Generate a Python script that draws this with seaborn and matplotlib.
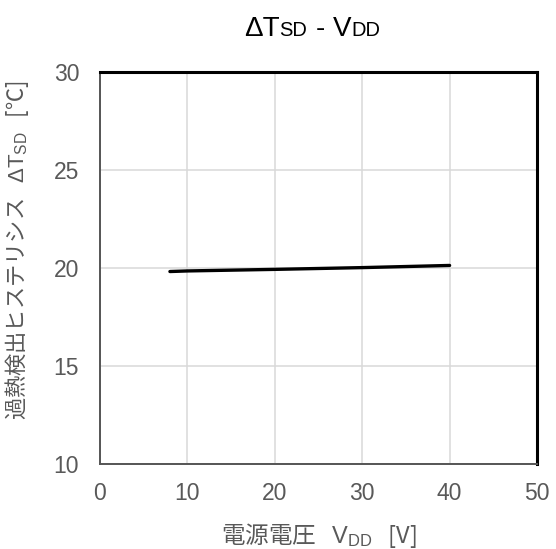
import matplotlib
matplotlib.use("Agg")
import matplotlib.pyplot as plt
import seaborn as sns
import pandas as pd

# data
vdd = [8, 10, 20, 30, 40]
dtsd = [19.82, 19.85, 19.93, 20.02, 20.13]
x_ticks = [0, 10, 20, 30, 40, 50]
y_ticks = [10, 15, 20, 25, 30]

sns.set_theme(style="white")
plt.rcParams['font.family'] = ['Liberation Sans', 'Noto Sans CJK JP', 'DejaVu Sans']
plt.rcParams['mathtext.fontset'] = 'custom'
plt.rcParams['mathtext.rm'] = 'Liberation Sans'
plt.rcParams['mathtext.it'] = 'Liberation Sans'

W, H = 556, 549
fig = plt.figure(figsize=(W / 100, H / 100), dpi=100)
ax_l, ax_r, ax_t, ax_b = 100, 537, 72, 464
ax = fig.add_axes([ax_l / W, 1 - ax_b / H, (ax_r - ax_l) / W, (ax_b - ax_t) / H])

df = pd.DataFrame({"vdd": vdd, "dtsd": dtsd})
sns.lineplot(data=df, x="vdd", y="dtsd", ax=ax, color="black", linewidth=2.4, zorder=3)

ax.set_xlim(0, 50)
ax.set_ylim(10, 30)
ax.set_xticks(x_ticks)
ax.set_yticks(y_ticks)
ax.set_xticklabels([str(v) for v in x_ticks])
ax.set_yticklabels([str(v) for v in y_ticks])
ax.grid(True, color="#d9d9d9", linewidth=1.1)
ax.tick_params(length=0, labelsize=16.5, labelcolor="#595959")
ax.tick_params(axis="x", pad=13)
ax.tick_params(axis="y", pad=15)
for lab in ax.get_xticklabels() + ax.get_yticklabels():
    lab.set_family("Liberation Sans")

for s in ["top", "right"]:
    ax.spines[s].set_color("black")
    ax.spines[s].set_linewidth(2.2)
for s in ["left", "bottom"]:
    ax.spines[s].set_color("#555555")
    ax.spines[s].set_linewidth(1.4)

ax.set_xlabel("電源電圧   $\\mathrm{V_{DD}}$   [V]", fontsize=17, color="#595959",
              family=["Noto Sans CJK JP"])
ax.xaxis.set_label_coords(0.5, -0.145)
ax.xaxis.label.set_va("top")
ax.set_ylabel("過熱検出ヒステリシス   $\\mathrm{ΔT_{SD}}$   [℃]", fontsize=16, color="#595959",
              family=["Noto Sans CJK JP"], va="center")
ax.yaxis.set_label_coords(-0.19, 0.546)

# title with small-cap style pieces
fig.canvas.draw()
r = fig.canvas.get_renderer()
parts = [("ΔT", 20, 0), ("SD", 14.5, 0), ("-", 20, 8), ("V", 20, 8), ("DD", 14.5, 0)]
texts = []
for s, sz, gap in parts:
    t = fig.text(0, 0, s, fontsize=sz, family="Liberation Sans", color="black",
                 ha="left", va="baseline")
    texts.append((t, gap))
widths = [t.get_window_extent(r).width for t, _ in texts]
total = sum(widths) + sum(g for _, g in texts)
cx, base = 312, 36
x = cx - total / 2
for (t, gap), w in zip(texts, widths):
    x += gap
    t.set_position((x / W, 1 - base / H))
    x += w

fig.savefig("out.png", dpi=100)
